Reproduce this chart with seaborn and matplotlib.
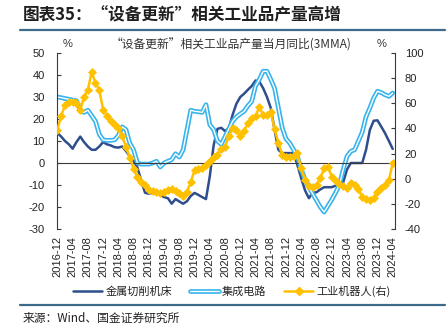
import matplotlib
matplotlib.use("Agg")
import matplotlib.pyplot as plt
import matplotlib.patheffects as pe
from matplotlib.lines import Line2D
import pandas as pd
import seaborn as sns

# Monthly observations, 2016-12 .. 2024-04 (3-month moving average, YoY %)
months = pd.period_range("2016-12", "2024-04", freq="M").strftime("%Y-%m").tolist()
tick_labels = months[::4]

machine_tools = [
    13.6, 12, 10, 8.5, 6.5, 9.5, 12, 9.5, 7.5, 6,
    6, 7.5, 9.5, 8.5, 8, 7.2, 7, 7.5, 5.5, 3,
    1, -2, -8, -13.5, -14, -13.5, -13.3, -14.5, -15.5, -16,
    -18.5, -16.4, -17.5, -18.5, -17.4, -15, -13.6, -14.5, -15.5, -16.4,
    -6, 8, 15.5, 16, 14.5, 15.8, 22, 27, 30, 31.5,
    33.3, 35, 37.5, 37, 34, 30, 25, 15, 6, 4.5,
    4.5, 4.5, 4.5, -1, -7, -12.5, -16, -13.5, -13.3, -12,
    -11, -11, -11, -10.3, -9.5, -8.8, -3, 0, 0, 0,
    0, 6, 15, 19.2, 19.4, 16.5, 13.5, 10, 6.4,
]

integrated_circuits = [
    30, 29.7, 29.3, 29, 28.6, 28.3, 24, 23, 24, 21.5,
    19, 13, 10.5, 10.3, 10.3, 10.5, 12.5, 16.4, 15.2, 9,
    6, 0, -0.5, -0.5, -0.5, 0, 0.8, -1.8, 0, 0.8,
    1.5, 4.2, 2.7, 6, 15, 24, 23.5, 23.3, 23, 26.5,
    17.4, 15.2, 10, 8.5, 12, 15.5, 19, 21, 22.3, 23.5,
    26, 28, 35, 38, 41.7, 41.7, 38, 34, 25, 16,
    11, 9, 6, 3, -3, -7.5, -11, -14, -17, -20,
    -22.3, -19.5, -16.7, -13.5, -10, -3, 3, 5.3, 6, 10,
    14, 21, 25, 29.5, 32.6, 32, 31, 30.3, 31.8,
]

industrial_robots = [
    39, 50, 58.6, 61, 61, 60, 54.6, 65, 70.6, 85,
    76, 70.6, 55, 50, 46, 43, 40, 34, 25.5, 16.7,
    8, 1, -3, -5, -9, -10, -10.5, -11.5, -10.5, -9,
    -8.5, -10, -11.7, -13.5, -10.3, -3, 7, 8, 8.5, 11,
    14, 17.5, 19, 24, 25.5, 34, 40, 38.7, 34, 38,
    44, 48.5, 50, 57, 50.7, 51, 53.3, 39.3, 28.6, 18.8,
    17.5, 17.5, 18, 20.2, 8.2, -1, -5.8, -6.9, -5, 0.3,
    8.2, 9.5, 1.6, -1.6, -4.2, -6, -7.7, -3.7, -5, -8.5,
    -14.3, -16.4, -17, -15, -10.3, -7.5, -5, -1, 12.2,
]

series_names = ["金属切削机床", "集成电路", "工业机器人(右)"]
title = "图表35：“设备更新”相关工业品产量高增"
subtitle = "“设备更新”相关工业品产量当月同比(3MMA)"
source = "来源：Wind、国金证券研究所"

df = pd.DataFrame({
    "idx": range(len(months)),
    "month": months,
    "machine_tools": machine_tools,
    "integrated_circuits": integrated_circuits,
    "industrial_robots": industrial_robots,
})

sns.set_style("white")
plt.rcParams["font.family"] = ["Liberation Sans", "Noto Sans CJK SC", "DejaVu Sans"]
plt.rcParams["axes.unicode_minus"] = False

C_DARK = "#2F4E8E"
C_CYAN = "#38B4EC"
C_GOLD = "#FFC000"
C_AXIS = "#3A3A3A"
C_RULE = "#3E6A8A"
CJK = ["Noto Sans CJK SC", "Liberation Sans", "DejaVu Sans"]

W, H = 447, 329
fig = plt.figure(figsize=(W / 100, H / 100), dpi=100)
ax = fig.add_axes([57 / W, 1 - 229 / H, (395 - 57) / W, (229 - 53) / H])
ax2 = ax.twinx()

sns.lineplot(data=df, x="idx", y="machine_tools", ax=ax, color=C_DARK, lw=1.8)
cyan_fx = [pe.Stroke(linewidth=3.4, foreground=C_CYAN), pe.Normal()]
sns.lineplot(data=df, x="idx", y="integrated_circuits", ax=ax, color="white",
             lw=1.0, path_effects=cyan_fx)
sns.lineplot(data=df, x="idx", y="industrial_robots", ax=ax2, color=C_GOLD, lw=1.8,
             marker="D", markersize=4.5, markeredgecolor=C_GOLD, markeredgewidth=0.5)

n = len(months)
ax.set_xlim(-0.1, n - 1 + 0.6)
ax.set_ylim(-30, 50)
ax.set_yticks(range(-30, 51, 10))
ax2.set_ylim(-40, 100)
ax2.set_yticks(range(-40, 101, 20))
for a in (ax, ax2):
    a.set_xlabel("")
    a.set_ylabel("")

# x axis line sits at y = 0, labels stay at the bottom of the plot
ax.spines["bottom"].set_position(("data", 0))
for s in ("top", "right"):
    ax.spines[s].set_visible(False)
for s in ("top", "bottom", "left"):
    ax2.spines[s].set_visible(False)
for sp in (ax.spines["left"], ax.spines["bottom"], ax2.spines["right"]):
    sp.set_color(C_AXIS)
    sp.set_linewidth(0.8)

tick_pos = list(range(0, n, 4))
ax.set_xticks(tick_pos)
ax.tick_params(axis="x", direction="out", length=3, width=0.8, color=C_AXIS,
               labelbottom=False)
ax.tick_params(axis="y", direction="in", length=3, width=0.8, color=C_AXIS,
               labelsize=8, pad=9, labelcolor="#222222")
ax2.tick_params(axis="y", direction="in", length=3, width=0.8, color=C_AXIS,
                labelsize=8, pad=7, labelcolor="#222222")

sec = ax.secondary_xaxis("bottom")
sec.set_xticks(tick_pos, labels=tick_labels, rotation=90)
sec.tick_params(length=0, pad=5, labelsize=8, labelcolor="#222222")
sec.spines["bottom"].set_visible(False)

# Header, sub-header and unit marks
fig.text(23 / W, 1 - 15 / H, title, fontsize=12, fontweight="bold",
         family=CJK, color="#1F1F1F", ha="left", va="center")
fig.add_artist(Line2D([20 / W, 445 / W], [1 - 30 / H, 1 - 30 / H],
                      transform=fig.transFigure, color=C_RULE, lw=1.6))
fig.text(231 / W, 1 - 45 / H, subtitle, fontsize=8.5, family=CJK,
         color="#333333", ha="center", va="center")
fig.text(68 / W, 1 - 44 / H, "%", fontsize=8, color="#333333", ha="center", va="center")
fig.text(382 / W, 1 - 44 / H, "%", fontsize=8, color="#333333", ha="center", va="center")

handles = [
    Line2D([], [], color=C_DARK, lw=1.8),
    Line2D([], [], color="white", lw=1.0, path_effects=cyan_fx),
    Line2D([], [], color=C_GOLD, lw=1.8, marker="D", markersize=4,
           markeredgecolor=C_GOLD),
]
fig.legend(handles, series_names, loc="center", bbox_to_anchor=(232 / W, 1 - 291 / H),
           ncol=3, frameon=False, prop={"family": CJK, "size": 8},
           handlelength=2.6, handletextpad=0.3, columnspacing=1.6)

fig.add_artist(Line2D([20 / W, 445 / W], [1 - 305 / H, 1 - 305 / H],
                      transform=fig.transFigure, color=C_RULE, lw=1.6))
fig.text(23 / W, 1 - 318 / H, source, fontsize=8.5, family=CJK,
         color="#222222", ha="left", va="center")

fig.savefig("out.png", dpi=100)
